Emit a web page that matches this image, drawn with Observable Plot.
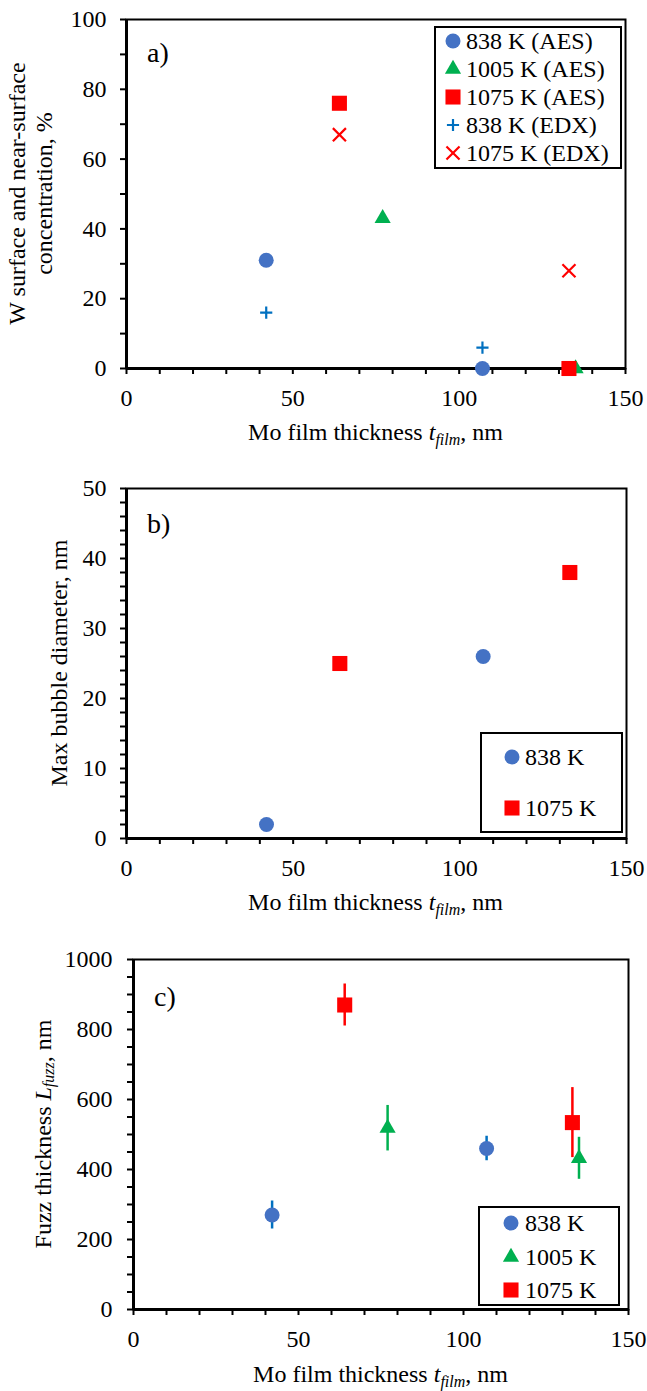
<!DOCTYPE html>
<html><head><meta charset="utf-8">
<script src="https://cdn.jsdelivr.net/npm/d3@7"></script>
<script src="https://cdn.jsdelivr.net/npm/@observablehq/plot@0.6"></script>
<style>
body{margin:0;background:#fff;}
#wrap{position:relative;width:647px;height:1391px;color:#000;}
#wrap svg.plot{display:block;}
.legend{position:absolute;border:2px solid #000;background:#fff;box-sizing:border-box;}
.ltxt{position:absolute;font-size:24px;line-height:24px;height:24px;white-space:nowrap;}
.lsym{position:absolute;overflow:visible;}
.plabel{position:absolute;font-size:28px;line-height:28px;}
</style></head><body><div id="wrap"></div>
<script>
// ---- data ----
const thickness838 = [42, 107];
const thickness1005 = [77, 135];
const thickness1075 = [64, 133];
// panel a: W surface / near-surface concentration, %
const aes838 = [31, 0];
const aes1005 = [43, 0];
const aes1075 = [76, 0];
const edx838 = [16, 6];
const edx1075 = [67, 28];
// panel b: max bubble diameter, nm
const bubble838 = [2, 26];
const bubble1075 = [25, 38];
// panel c: fuzz thickness, nm (value, error)
const fuzz838 = [270, 460];
const fuzzErr838 = [40, 35];
const fuzz1005 = [518, 432];
const fuzzErr1005 = [65, 60];
const fuzz1075 = [870, 534];
const fuzzErr1075 = [60, 100];

const legendA = ["838 K (AES)", "1005 K (AES)", "1075 K (AES)", "838 K (EDX)", "1075 K (EDX)"];
const legendB = ["838 K", "1075 K"];
const legendC = ["838 K", "1005 K", "1075 K"];

const BLUE = "#4472C4", GREEN = "#00B050", RED = "#FF0000", LBLUE = "#0070C0";
const FONT = "Liberation Serif";

const rows = (xs, ys, es) => xs.map((x, i) => ({x, y: ys[i], e: es ? es[i] : 0}));

const SYM = {
  circle: {symbol: "circle", r: 7.5, fill: BLUE},
  triangle: {symbol: "triangle", r: 6, fill: GREEN},
  square: {symbol: "square", r: 8.5, fill: RED},
  plus: {symbol: "plus", r: 4, stroke: LBLUE},
  times: {symbol: "times", r: 6, stroke: RED}
};
function dots(data, kind) {
  const s = SYM[kind];
  if (s.fill) return Plot.dot(data, {x: "x", y: "y", symbol: s.symbol, r: s.r, fill: s.fill, stroke: "none"});
  return Plot.dot(data, {x: "x", y: "y", symbol: s.symbol, r: s.r, fill: "none", stroke: s.stroke, strokeWidth: 2.2});
}

function frameMarks(xdom, ydom, yStep, yLabelStep, yPad) {
  return [
    Plot.frame({stroke: "black", strokeWidth: 2}),
    Plot.ruleY([ydom[0]], {stroke: "black", strokeWidth: 3}),
    Plot.ruleX([xdom[0]], {stroke: "black", strokeWidth: 3}),
    Plot.axisX({ticks: d3.range(0, 151, 10), tickFormat: d => d % 50 ? "" : String(d), tickSize: 6, tickPadding: 14, strokeWidth: 2, label: null}),
    Plot.axisY({ticks: d3.range(ydom[0], ydom[1] + 1e-9, yStep), tickFormat: d => d % yLabelStep ? "" : String(d), tickSize: 6, tickPadding: yPad, strokeWidth: 2, label: null})
  ];
}

function makePlot(opts, marks) {
  const svg = Plot.plot({
    width: 647, height: opts.height,
    marginLeft: opts.ml, marginRight: opts.mr, marginTop: opts.mt, marginBottom: opts.mb,
    x: {domain: [0, 150]}, y: {domain: opts.ydom},
    style: {fontSize: "24px", background: "white", color: "black", overflow: "visible"},
    marks
  });
  svg.classList.add("plot");
  svg.style.fontFamily = FONT;
  svg.setAttribute("font-family", FONT);
  d3.select(svg).selectAll("g").attr("font-family", FONT);
  d3.select(svg).selectAll("text").attr("font-family", FONT).style("font-family", FONT);
  return svg;
}

function xTitle(svg, cx, cy) {
  const t = d3.select(svg).append("text").attr("x", cx).attr("y", cy).attr("text-anchor", "middle")
    .attr("font-family", FONT).attr("font-size", 24).attr("fill", "black");
  t.append("tspan").text("Mo film thickness ");
  t.append("tspan").attr("font-style", "italic").text("t");
  t.append("tspan").attr("font-style", "italic").attr("font-size", 16).attr("dy", 5).text("film");
  t.append("tspan").attr("dy", -5).text(", nm");
}
function yTitle(svg, cx, cy, parts) {
  const t = d3.select(svg).append("text").attr("transform", `translate(${cx},${cy}) rotate(-90)`)
    .attr("text-anchor", "middle").attr("dominant-baseline", "central")
    .attr("font-family", FONT).attr("font-size", 24).attr("fill", "black");
  for (const p of parts) {
    const ts = t.append("tspan").text(p.t);
    if (p.i) ts.attr("font-style", "italic");
    if (p.sub) ts.attr("font-size", 16).attr("dy", 5);
    if (p.up) ts.attr("dy", -5);
  }
}

const wrap = document.getElementById("wrap");

// ---- Panel a ----
const pa = makePlot({height: 440, ml: 126, mr: 22, mt: 19, mb: 72, ydom: [0, 100]}, [
  ...frameMarks([0, 150], [0, 100], 10, 20, 14),
  dots(rows(thickness1005, aes1005), "triangle"),
  dots(rows(thickness838, aes838), "circle"),
  dots(rows(thickness1075, aes1075), "square"),
  dots(rows(thickness838, edx838), "plus"),
  dots(rows(thickness1075, edx1075), "times")
]);
xTitle(pa, 375.5, 440);
yTitle(pa, 17, 193.5, [{t: "W surface and near-surface"}]);
yTitle(pa, 44, 193.5, [{t: "concentration, %"}]);
wrap.appendChild(pa);

// ---- Panel b ----
const pb = makePlot({height: 470, ml: 126, mr: 21, mt: 48, mb: 72, ydom: [0, 50]}, [
  ...frameMarks([0, 150], [0, 50], 2, 10, 14),
  dots(rows(thickness838, bubble838), "circle"),
  dots(rows(thickness1075, bubble1075), "square")
]);
xTitle(pb, 375.5, 470);
yTitle(pb, 59, 223, [{t: "Max bubble diameter, nm"}]);
wrap.appendChild(pb);

// ---- Panel c ----
const c838 = rows(thickness838, fuzz838, fuzzErr838);
const c1005 = rows(thickness1005, fuzz1005, fuzzErr1005);
const c1075 = rows(thickness1075, fuzz1075, fuzzErr1075);
const ebar = (d, color) => Plot.ruleX(d, {x: "x", y1: r => r.y - r.e, y2: r => r.y + r.e, stroke: color, strokeWidth: 2.5});
const pc = makePlot({height: 481, ml: 133, mr: 19, mt: 49, mb: 82, ydom: [0, 1000]}, [
  ...frameMarks([0, 150], [0, 1000], 50, 200, 15),
  ebar(c838, LBLUE), ebar(c1005, GREEN), ebar(c1075, RED),
  dots(c838, "circle"),
  dots(c1005, "triangle"),
  dots(c1075, "square")
]);
xTitle(pc, 380.5, 472);
yTitle(pc, 43, 224, [{t: "Fuzz thickness "}, {t: "L", i: true}, {t: "fuzz", i: true, sub: true}, {t: ", nm", up: true}]);
wrap.appendChild(pc);

// ---- legends (HTML) ----
function symSvg(kind, cx, cy) {
  const s = SYM[kind];
  const type = {circle: d3.symbolCircle, triangle: d3.symbolTriangle, square: d3.symbolSquare, plus: d3.symbolPlus, times: d3.symbolTimes}[kind];
  const path = d3.symbol(type, Math.PI * s.r * s.r)();
  const el = document.createElementNS("http://www.w3.org/2000/svg", "svg");
  el.setAttribute("class", "lsym");
  el.setAttribute("width", 24); el.setAttribute("height", 24);
  el.style.left = (cx - 12) + "px"; el.style.top = (cy - 12) + "px";
  const p = document.createElementNS("http://www.w3.org/2000/svg", "path");
  p.setAttribute("d", path);
  p.setAttribute("transform", "translate(12,12)");
  if (s.fill) { p.setAttribute("fill", s.fill); }
  else { p.setAttribute("fill", "none"); p.setAttribute("stroke", s.stroke); p.setAttribute("stroke-width", 2.2); }
  el.appendChild(p);
  wrap.appendChild(el);
}
function legend(box, labels, kinds, ys, mx, tx) {
  const d = document.createElement("div");
  d.className = "legend";
  Object.assign(d.style, {left: box[0] + "px", top: box[1] + "px", width: (box[2] - box[0]) + "px", height: (box[3] - box[1]) + "px"});
  wrap.appendChild(d);
  labels.forEach((lab, i) => {
    symSvg(kinds[i], mx, ys[i]);
    const t = document.createElement("div");
    t.className = "ltxt"; t.textContent = lab;
    t.style.fontFamily = FONT;
    t.style.left = tx + "px"; t.style.top = (ys[i] - 12) + "px";
    wrap.appendChild(t);
  });
}
legend([434, 26, 622, 169], legendA, ["circle", "triangle", "square", "plus", "times"], [41, 69, 97, 125, 153], 453, 466);
legend([480, 732, 623, 833], legendB, ["circle", "square"], [757, 808], 512, 525);
legend([478, 1206, 620, 1306], legendC, ["circle", "triangle", "square"], [1223, 1257, 1290], 511, 525);

// panel letters
[["a)", 147, 39], ["b)", 147, 510], ["c)", 154, 983]].forEach(([s, x, y]) => {
  const d = document.createElement("div");
  d.className = "plabel"; d.textContent = s;
  d.style.fontFamily = FONT;
  d.style.left = x + "px"; d.style.top = y + "px";
  wrap.appendChild(d);
});
</script></body></html>
